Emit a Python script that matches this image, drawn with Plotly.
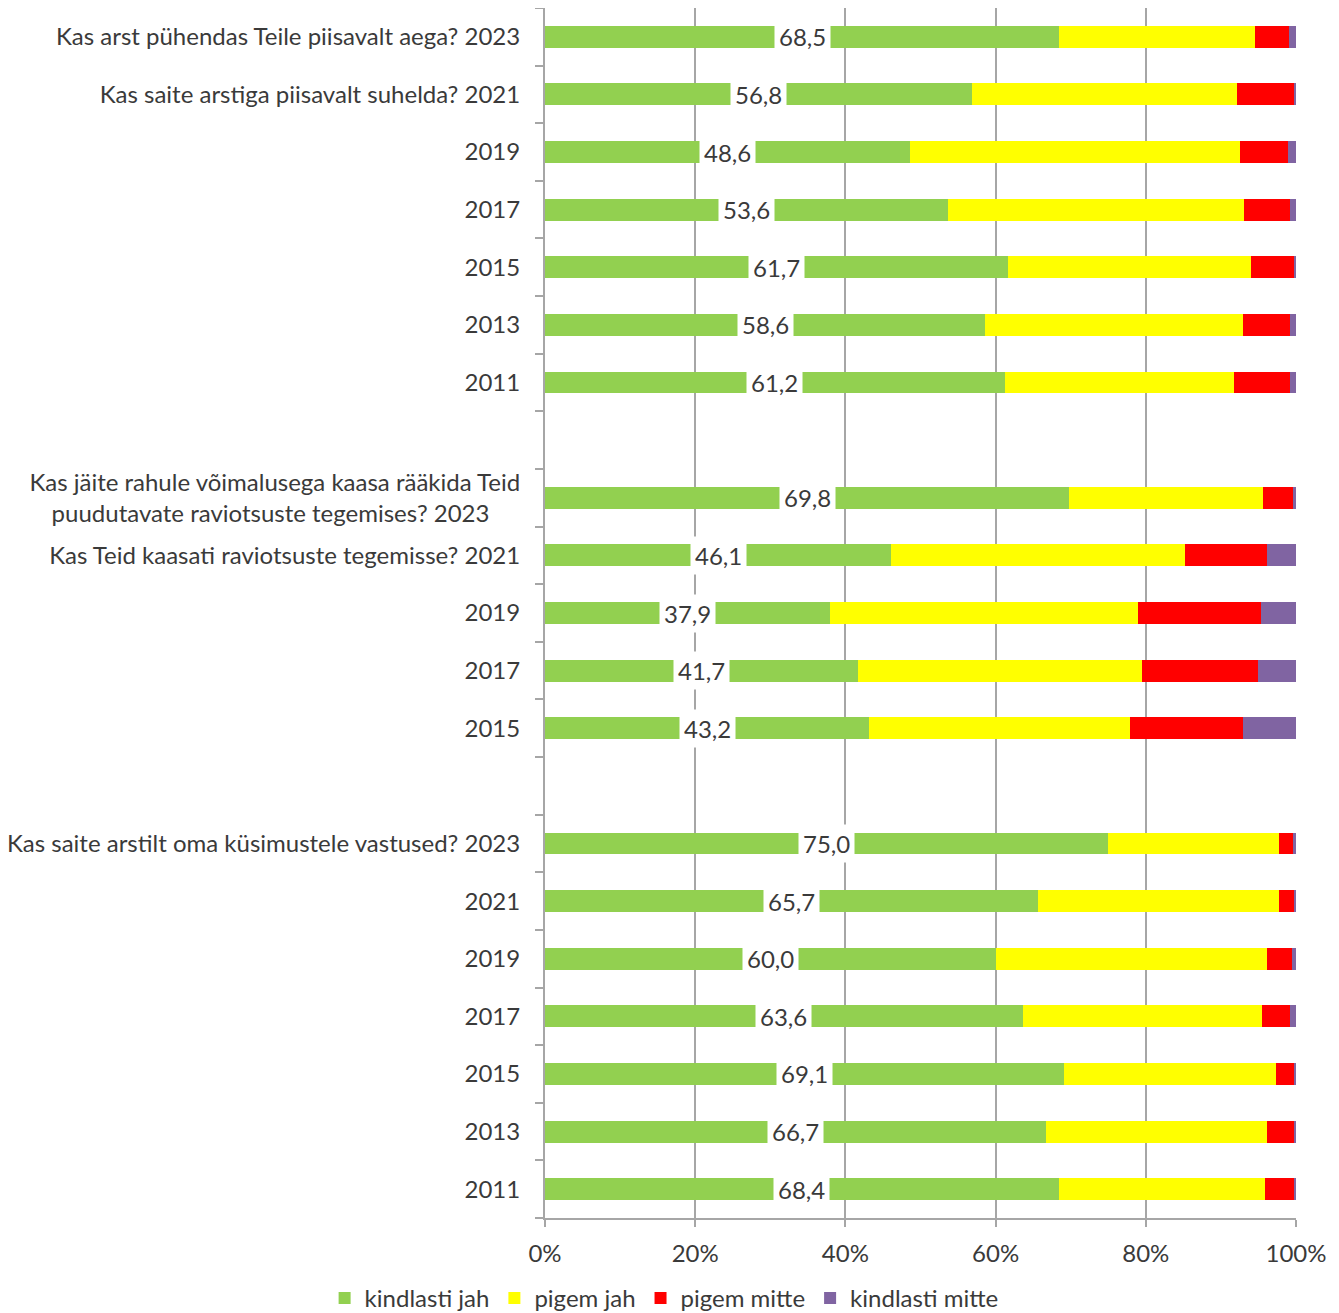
import plotly.graph_objects as go

labels = [
    "Kas arst pühendas Teile piisavalt aega? 2023",
    "Kas saite arstiga piisavalt suhelda? 2021",
    "2019", "2017", "2015", "2013", "2011",
    "",
    "Kas jäite rahule võimalusega kaasa rääkida Teid<br>puudutavate raviotsuste tegemises? 2023" + "\u00a0" * 5,
    "Kas Teid kaasati raviotsuste tegemisse? 2021",
    "2019", "2017", "2015",
    "",
    "Kas saite arstilt oma küsimustele vastused? 2023",
    "2021", "2019", "2017", "2015", "2013", "2011",
]

kindlasti_jah = [68.5, 56.8, 48.6, 53.6, 61.7, 58.6, 61.2, None,
                 69.8, 46.1, 37.9, 41.7, 43.2, None,
                 75.0, 65.7, 60.0, 63.6, 69.1, 66.7, 68.4]
pigem_jah = [26.0, 35.3, 43.9, 39.5, 32.3, 34.3, 30.6, None,
             25.8, 39.1, 41.1, 37.8, 34.7, None,
             22.8, 32.1, 36.2, 31.9, 28.3, 29.5, 27.5]
pigem_mitte = [4.6, 7.6, 6.4, 6.1, 5.7, 6.3, 7.4, None,
               4.0, 11.0, 16.4, 15.4, 15.1, None,
               1.8, 2.0, 3.3, 3.7, 2.3, 3.5, 3.8]
kindlasti_mitte = [0.9, 0.3, 1.1, 0.8, 0.3, 0.8, 0.8, None,
                   0.4, 3.8, 4.6, 5.1, 7.0, None,
                   0.4, 0.2, 0.5, 0.8, 0.3, 0.3, 0.3]

x_ticks = [0, 20, 40, 60, 80, 100]
x_ticklabels = ["0%", "20%", "40%", "60%", "80%", "100%"]

series = [
    ("kindlasti jah", kindlasti_jah, "#92D050"),
    ("pigem jah", pigem_jah, "#FFFF00"),
    ("pigem mitte", pigem_mitte, "#FF0000"),
    ("kindlasti mitte", kindlasti_mitte, "#8064A2"),
]

cat_ids = [f"c{i}" for i in range(len(labels))]

FONT = "Lato"
FS = 24
TXT = "#3a3a3a"

fig = go.Figure()
for name, vals, col in series:
    fig.add_trace(go.Bar(
        y=cat_ids, x=vals, name=name, orientation="h",
        marker=dict(color=col, line=dict(width=0)),
        hoverinfo="x+name",
    ))

for cid, v in zip(cat_ids, kindlasti_jah):
    if v is None:
        continue
    fig.add_annotation(
        x=v / 2, y=cid, xref="x", yref="y",
        text=f"{v:.1f}".replace(".", ","),
        showarrow=False, bgcolor="white", borderpad=4,
        font=dict(family=FONT, size=FS, color=TXT),
    )

fig.update_layout(
    barmode="stack",
    bargap=0.62,
    width=1339, height=1313,
    margin=dict(l=537, r=51, t=0, b=103),
    plot_bgcolor="white", paper_bgcolor="white",
    font=dict(family=FONT, size=FS, color=TXT),
    legend=dict(
        orientation="h", xref="container", yref="container",
        x=0.49, xanchor="center", y=0.0, yanchor="bottom",
        font=dict(family=FONT, size=FS, color=TXT),
        traceorder="normal", itemwidth=30,
    ),
    showlegend=True,
)

fig.update_xaxes(
    range=[0, 100], tickmode="array", tickvals=x_ticks, ticktext=x_ticklabels,
    showgrid=True, gridcolor="#A6A6A6", gridwidth=2,
    showline=True, linecolor="#A6A6A6", linewidth=2,
    ticks="outside", ticklen=7, tickcolor="#A6A6A6", tickwidth=2,
    ticklabelstandoff=6, zeroline=False,
    tickfont=dict(family=FONT, size=FS, color=TXT),
)
fig.update_yaxes(
    categoryorder="array", categoryarray=cat_ids,
    autorange="reversed",
    tickmode="array", tickvals=cat_ids, ticktext=labels,
    tickson="boundaries", ticks="outside", ticklen=8,
    tickcolor="#A6A6A6", tickwidth=2,
    showline=True, linecolor="#A6A6A6", linewidth=2,
    showgrid=False, ticklabelstandoff=18,
    tickfont=dict(family=FONT, size=FS, color=TXT),
)

fig.write_html("out.html")
